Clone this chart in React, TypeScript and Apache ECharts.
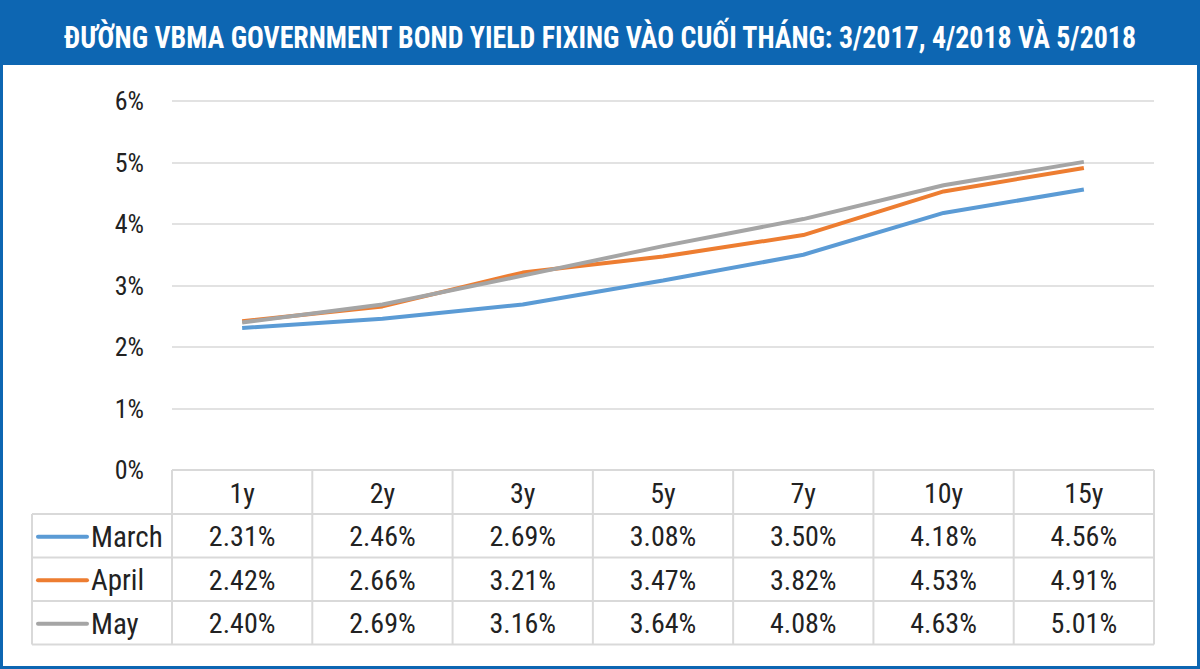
import React, { useEffect, useRef } from "react";
import * as echarts from "echarts";

const categories = ["1y", "2y", "3y", "5y", "7y", "10y", "15y"];
const seriesNames = ["March", "April", "May"];
const marchValues = [2.31, 2.46, 2.69, 3.08, 3.5, 4.18, 4.56];
const aprilValues = [2.42, 2.66, 3.21, 3.47, 3.82, 4.53, 4.91];
const mayValues = [2.4, 2.69, 3.16, 3.64, 4.08, 4.63, 5.01];
const seriesColors = ["#5b9bd5", "#ed7d31", "#a5a5a5"];
const yMin = 0;
const yMax = 6;
const yInterval = 1;
const title =
  "ĐƯỜNG VBMA GOVERNMENT BOND YIELD FIXING VÀO CUỐI THÁNG: 3/2017, 4/2018 VÀ 5/2018";

const W = 1200;
const H = 669;
const FONT = "'Roboto Condensed', 'Liberation Sans Narrow', 'DejaVu Sans Condensed', 'Roboto', sans-serif";
const BLUE = "#0d66b2";
const GRID_LEFT = 172;
const GRID_RIGHT_X = 1154;
const GRID_TOP = 101;
const GRID_BOTTOM_Y = 470;
const ROW_H = 43.5;
const LABEL_LEFT = 32;
const LINE_C = "#d9d9d9";
const TEXT_C = "#222222";

export default function App() {
  const ref = useRef<HTMLDivElement>(null);
  useEffect(() => {
    if (!ref.current) return;
    const chart = echarts.init(ref.current, undefined, { renderer: "svg" });
    const allValues = [marchValues, aprilValues, mayValues];

    const bandW = (GRID_RIGHT_X - GRID_LEFT) / categories.length;
    const headerBottom = GRID_BOTTOM_Y + 44;
    const rowTop = (i: number) => headerBottom + i * ROW_H;
    const tableBottom = rowTop(seriesNames.length);

    const graphics: any[] = [];
    graphics.push({
      type: "rect",
      shape: { x: 0, y: 0, width: W, height: 65 },
      style: { fill: BLUE },
      silent: true,
    });
    graphics.push({
      type: "rect",
      shape: { x: 1.5, y: 1.5, width: W - 3, height: H - 3 },
      style: { fill: "none", stroke: BLUE, lineWidth: 3 },
      silent: true,
    });
    graphics.push({
      type: "text",
      x: W / 2,
      y: 37,
      scaleX: 0.9,
      style: {
        text: title,
        fill: "#ffffff",
        font: `bold 31px ${FONT}`,
        textAlign: "center",
        textVerticalAlign: "middle",
      },
      silent: true,
    });
    const hl = (y: number, x1: number, x2: number) =>
      graphics.push({
        type: "line",
        shape: { x1, y1: y, x2, y2: y },
        style: { stroke: LINE_C, lineWidth: 2 },
        silent: true,
      });
    const vl = (x: number, y1: number, y2: number) =>
      graphics.push({
        type: "line",
        shape: { x1: x, y1, x2: x, y2 },
        style: { stroke: LINE_C, lineWidth: 2 },
        silent: true,
      });
    hl(GRID_BOTTOM_Y, GRID_LEFT, GRID_RIGHT_X);
    for (let i = 0; i <= seriesNames.length; i++) hl(rowTop(i), LABEL_LEFT, GRID_RIGHT_X);
    vl(LABEL_LEFT, headerBottom, tableBottom);
    for (let c = 0; c <= categories.length; c++) vl(GRID_LEFT + c * bandW, GRID_BOTTOM_Y, tableBottom);

    categories.forEach((cat, c) => {
      graphics.push({
        type: "text",
        x: GRID_LEFT + (c + 0.5) * bandW,
        y: (GRID_BOTTOM_Y + headerBottom) / 2 + 1,
        style: {
          text: cat,
          fill: TEXT_C,
          font: `28px ${FONT}`,
          textAlign: "center",
          textVerticalAlign: "middle",
        },
        silent: true,
      });
    });
    seriesNames.forEach((name, r) => {
      const cy = rowTop(r) + ROW_H / 2 + 1;
      graphics.push({
        type: "line",
        shape: { x1: 38, y1: cy, x2: 87, y2: cy },
        style: { stroke: seriesColors[r], lineWidth: 4, lineCap: "round" },
        silent: true,
      });
      graphics.push({
        type: "text",
        x: 91,
        y: cy,
        style: {
          text: name,
          fill: TEXT_C,
          font: `29px ${FONT}`,
          textAlign: "left",
          textVerticalAlign: "middle",
        },
        silent: true,
      });
      allValues[r].forEach((v, c) => {
        graphics.push({
          type: "text",
          x: GRID_LEFT + (c + 0.5) * bandW,
          y: cy,
          style: {
            text: v.toFixed(2) + "%",
            fill: TEXT_C,
            font: `28px ${FONT}`,
            textAlign: "center",
            textVerticalAlign: "middle",
          },
          silent: true,
        });
      });
    });

    chart.setOption({
      animation: false,
      backgroundColor: "#ffffff",
      grid: {
        left: GRID_LEFT,
        right: W - GRID_RIGHT_X,
        top: GRID_TOP,
        bottom: H - GRID_BOTTOM_Y,
      },
      xAxis: {
        type: "category",
        data: categories,
        boundaryGap: true,
        axisLine: { show: false },
        axisTick: { show: false },
        axisLabel: { show: false },
      },
      yAxis: {
        type: "value",
        min: yMin,
        max: yMax,
        interval: yInterval,
        axisLine: { show: false },
        axisTick: { show: false },
        splitLine: { lineStyle: { color: LINE_C, width: 1.5 } },
        axisLabel: {
          formatter: "{value}%",
          fontFamily: FONT,
          fontSize: 26,
          color: TEXT_C,
          margin: 28,
        },
      },
      series: seriesNames.map((name, i) => ({
        name,
        type: "line",
        data: allValues[i],
        symbol: "none",
        lineStyle: { color: seriesColors[i], width: 4 },
        itemStyle: { color: seriesColors[i] },
        z: 2 + i,
      })),
      graphic: graphics,
    });
    return () => chart.dispose();
  }, []);
  return (
    <div
      ref={ref}
      style={{ position: "fixed", left: 0, top: 0, width: W, height: H }}
    />
  );
}
